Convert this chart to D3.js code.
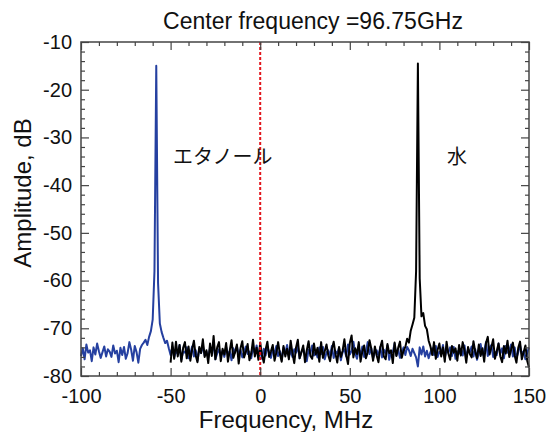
<!DOCTYPE html>
<html>
<head>
<meta charset="utf-8">
<script src="https://cdn.jsdelivr.net/npm/d3@7"></script>
<style>
  body { margin: 0; background: #fff; }
  svg text { font-family: "Liberation Sans", Arial, sans-serif; fill: #111; }
  .jp { font-family: "Noto Sans CJK JP", sans-serif; }
</style>
</head>
<body>
<div id="chart-area"></div>
<script>
// ethanol spectrum (blue): 1 MHz steps from -100 to 150 MHz
const ethanolStart = -100;
const ethanolDb = [
  -75.8,-74.2,-76.5,-73.4,-75.1,-74.6,-76.9,-74.0,-75.5,-73.2,
  -74.8,-76.2,-75.0,-73.8,-75.9,-74.4,-74.9,-76.0,-73.6,-75.3,
  -74.7,-77.1,-74.1,-75.6,-73.9,-76.4,-75.2,-72.9,-74.5,-76.8,
  -73.7,-75.0,-77.2,-74.3,-73.5,
  -73.0,-72.4,-73.5,-71.8,-70.6,-68.2,-58.0,-15.0,-60.5,-69.0,-70.8,-72.0,-73.1,-72.6,
  -74.2,-75.6,-73.9,-76.1,-74.8,-75.3,-73.5,-76.6,-74.9,-75.1,
  -74.0,-76.3,-75.4,-73.8,-75.9,-74.6,-76.8,-74.3,-75.2,-73.6,
  -75.7,-74.9,-76.2,-74.1,-75.0,-73.4,-76.5,-75.3,-74.4,-75.8,
  -74.7,-76.0,-73.9,-75.5,-74.8,-76.7,-74.2,-75.1,-73.7,-75.6,
  -74.5,-76.1,-75.0,-73.8,-75.4,-74.9,-76.3,-74.0,-75.2,-73.6,
  -75.5,-74.6,-76.4,-74.3,-75.7,-73.9,-75.0,-76.2,-74.4,-75.3,
  -73.7,-75.8,-74.8,-76.6,-74.1,-75.2,-73.5,-75.9,-74.7,-76.0,
  -74.4,-75.1,-73.8,-76.3,-75.0,-74.2,-75.6,-76.9,-74.5,-75.3,
  -73.6,-75.7,-74.9,-76.1,-74.0,-75.4,-73.9,-76.5,-75.1,-74.6,
  -75.8,-73.7,-76.2,-74.8,-75.3,-74.1,-76.7,-75.0,-74.4,-75.9,
  -73.4,-75.5,-74.7,-72.8,-75.2,-76.4,-74.3,-75.6,-73.8,-76.0,
  -74.9,-72.9,-75.4,-74.2,-76.3,-75.1,-74.6,-75.8,-73.9,-76.1,
  -74.5,-75.3,-73.6,-76.6,-74.8,-75.0,-73.2,-75.7,-74.4,-76.2,
  -75.1,-74.0,-75.6,-73.9,-74.6,-75.8,-74.3,-75.2,-76.1,-78.0,
  -74.0,-75.5,-73.8,-75.9,-74.7,-76.3,-75.0,-74.2,-75.6,-73.7,
  -76.0,-74.9,-75.4,-73.5,-76.2,-74.6,-75.1,-74.0,-75.8,-73.9,
  -76.4,-74.8,-75.3,-74.3,-75.7,-73.6,-76.1,-74.5,-75.0,-73.8,
  -75.9,-74.4,-76.6,-75.2,-73.3,-75.5,-74.7,-72.9,-75.8,-74.1,
  -73.5,-76.0,-74.9,-75.6,-73.2,-75.3,-74.2,-76.3,-73.7,-75.1,
  -74.6,-73.4,-75.9,-74.0,-76.2,-75.0,-73.6,-75.4,-74.8,-76.5,
  -75.2,-74.0
];

// water spectrum (black): 1 MHz steps from -50 to 150 MHz
const waterStart = -50;
const waterDb = [
  -77.2,-73.0,-76.4,-72.8,-75.9,-73.5,-77.0,-74.1,-72.9,-76.3,
  -73.8,-76.8,-74.4,-72.6,-75.7,-77.1,-73.9,-75.2,-72.3,-76.0,
  -74.6,-77.3,-73.2,-75.8,-71.6,-76.5,-74.0,-72.9,-76.9,-74.3,
  -75.5,-73.1,-77.0,-74.7,-72.5,-76.2,-75.0,-73.4,-77.4,-74.2,
  -72.7,-76.1,-74.9,-73.3,-76.7,-75.3,-72.4,-75.9,-74.1,-76.6,
  -73.0,-75.6,-77.2,-74.5,-72.8,-76.0,-74.8,-73.5,-76.8,-75.1,
  -72.9,-75.4,-77.0,-73.7,-75.9,-74.3,-76.5,-72.6,-75.2,-77.3,
  -74.0,-72.4,-76.3,-75.0,-73.6,-77.1,-74.6,-72.7,-75.8,-76.4,
  -73.2,-75.5,-74.1,-77.0,-72.9,-76.2,-74.8,-73.4,-75.7,-76.9,
  -74.4,-72.8,-75.3,-77.2,-73.9,-76.0,-74.7,-72.3,-75.6,-77.5,
  -73.1,-71.5,-76.1,-74.2,-75.4,-72.9,-77.0,-74.9,-73.6,-76.3,
  -75.0,-72.5,-74.3,-76.8,-73.8,-75.7,-77.1,-74.0,-72.6,-75.9,
  -76.5,-73.3,-75.2,-74.6,-77.3,-73.0,-75.8,-74.1,-72.8,-76.2,
  -74.7,-73.9,-72.2,-73.0,-70.5,-69.2,-67.8,-58.0,-14.5,-59.5,
  -67.5,-66.8,-69.5,-70.2,-72.6,-73.8,-75.6,-72.9,-76.4,-74.5,
  -73.2,-75.9,-74.0,-77.0,-72.8,-75.3,-76.6,-73.7,-75.1,-74.2,
  -76.8,-73.5,-75.7,-72.9,-74.6,-77.2,-73.9,-75.4,-76.1,-72.7,
  -74.9,-76.3,-73.4,-75.8,-74.2,-77.0,-73.1,-71.8,-75.5,-74.0,
  -72.3,-76.4,-74.8,-73.2,-75.9,-77.1,-73.7,-75.3,-72.6,-76.0,
  -74.5,-73.0,-75.7,-77.2,-74.1,-72.8,-76.5,-75.0,-73.6,-76.8,
  -78.2
];

const xTicks = [-100, -50, 0, 50, 100, 150];
const yTicks = [-80, -70, -60, -50, -40, -30, -20, -10];
const centerFreq = 0;
const titleText = "Center frequency =96.75GHz";

const svgWidth = 548, svgHeight = 432;
const margin = { left: 81, right: 19, top: 42, bottom: 56 };
const width = svgWidth - margin.left - margin.right;
const height = svgHeight - margin.top - margin.bottom;

const svg = d3.select("#chart-area")
              .append("svg")
              .attr("width", svgWidth)
              .attr("height", svgHeight);
const g = svg.append("g")
             .attr("transform", `translate(${margin.left},${margin.top})`);

const x = d3.scaleLinear().domain([-100, 150]).range([0, width]);
const y = d3.scaleLinear().domain([-80, -10]).range([height, 0]);

const ethanol = ethanolDb.map((v, i) => ({ f: ethanolStart + i, db: v }));
const water = waterDb.map((v, i) => ({ f: waterStart + i, db: v }));

const line = d3.line().x(d => x(d.f)).y(d => y(d.db));

g.append("path")
 .datum(ethanol)
 .attr("fill", "none")
 .attr("stroke", "#2540a0")
 .attr("stroke-width", 2)
 .attr("stroke-linejoin", "round")
 .attr("d", line);

g.append("path")
 .datum(water)
 .attr("fill", "none")
 .attr("stroke", "#000")
 .attr("stroke-width", 2)
 .attr("stroke-linejoin", "round")
 .attr("d", line);

g.append("line")
 .attr("x1", x(centerFreq)).attr("x2", x(centerFreq))
 .attr("y1", 0).attr("y2", height)
 .attr("stroke", "#e3141b")
 .attr("stroke-width", 2)
 .attr("stroke-dasharray", "3,2");

// axes: major + minor ticks, all pointing inward
const xMinor = d3.range(-100, 151, 10).filter(v => v % 50 !== 0);
const yMinor = d3.range(-80, -9, 2).filter(v => v % 10 !== 0);
const plain = d => String(d);   // ascii hyphen like the original

function styleAxis(sel) {
  sel.select(".domain").remove();
  sel.selectAll("line").attr("stroke", "#444").attr("stroke-width", 1.2);
  sel.selectAll("text").attr("font-size", 20).attr("fill", "#111")
     .style("font-family", "'Liberation Sans', Arial, sans-serif");
}

g.append("g").attr("transform", `translate(0,${height})`)
 .call(d3.axisBottom(x).tickValues(xTicks).tickSize(-8).tickPadding(13).tickFormat(plain))
 .call(styleAxis);
g.append("g").attr("transform", `translate(0,${height})`)
 .call(d3.axisBottom(x).tickValues(xMinor).tickSize(-4).tickFormat(""))
 .call(styleAxis);
g.append("g")
 .call(d3.axisTop(x).tickValues(xTicks).tickSize(-8).tickFormat(""))
 .call(styleAxis);
g.append("g")
 .call(d3.axisTop(x).tickValues(xMinor).tickSize(-4).tickFormat(""))
 .call(styleAxis);

g.append("g")
 .call(d3.axisLeft(y).tickValues(yTicks).tickSize(-8).tickPadding(9).tickFormat(plain))
 .call(styleAxis);
g.append("g")
 .call(d3.axisLeft(y).tickValues(yMinor).tickSize(-4).tickFormat(""))
 .call(styleAxis);
g.append("g").attr("transform", `translate(${width},0)`)
 .call(d3.axisRight(y).tickValues(yTicks).tickSize(-8).tickFormat(""))
 .call(styleAxis);
g.append("g").attr("transform", `translate(${width},0)`)
 .call(d3.axisRight(y).tickValues(yMinor).tickSize(-4).tickFormat(""))
 .call(styleAxis);

g.append("rect")
 .attr("width", width).attr("height", height)
 .attr("fill", "none")
 .attr("stroke", "#444")
 .attr("stroke-width", 1.5);

svg.append("text")
   .attr("x", 313)
   .attr("y", 29)
   .attr("text-anchor", "middle")
   .attr("font-size", 23)
   .text(titleText);

svg.append("text")
   .attr("x", 286)
   .attr("y", 428)
   .attr("text-anchor", "middle")
   .attr("font-size", 24)
   .text("Frequency, MHz");

svg.append("text")
   .attr("x", -193)
   .attr("y", 31)
   .attr("text-anchor", "middle")
   .attr("transform", "rotate(-90)")
   .attr("font-size", 24)
   .text("Amplitude, dB");

svg.append("text")
   .attr("class", "jp")
   .attr("x", 173)
   .attr("y", 164)
   .attr("font-size", 20)
   .text("エタノール");

svg.append("text")
   .attr("class", "jp")
   .attr("x", 447)
   .attr("y", 164)
   .attr("font-size", 20)
   .text("水");
</script>
</body>
</html>
